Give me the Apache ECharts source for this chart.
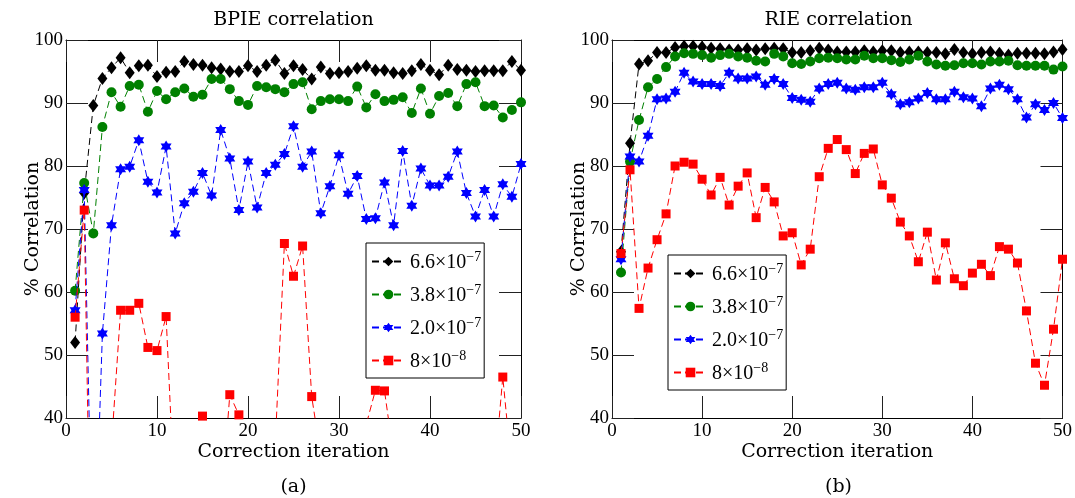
<!DOCTYPE html>
<html><head><meta charset="utf-8">
<script src="https://cdn.jsdelivr.net/npm/echarts@6/dist/echarts.min.js"></script>
<style>html,body{margin:0;padding:0;background:#fff}#c{width:1075px;height:498px}</style>
</head><body><div id="c"></div>
<script>
const iterations = [1,2,3,4,5,6,7,8,9,10,11,12,13,14,15,16,17,18,19,20,21,22,23,24,25,26,27,28,29,30,31,32,33,34,35,36,37,38,39,40,41,42,43,44,45,46,47,48,49,50];
const seriesNames = ['6.6e-7','3.8e-7','2.0e-7','8e-8'];
const legendBase = ['6.6×10','3.8×10','2.0×10','8×10'];
const legendExp = ['−7','−7','−7','−8'];
const xTicks = [0,10,20,30,40,50];
const yTicks = [40,50,60,70,80,90,100];

// BPIE correlation (a)
const bpie66 = [52.0,75.7,89.6,93.9,95.6,97.2,94.8,95.9,96.0,94.2,94.9,95.0,96.6,96.1,96.0,95.6,95.4,95.0,95.0,95.9,95.0,96.0,96.8,94.7,95.9,95.3,93.8,95.7,94.7,94.8,95.0,95.5,95.9,95.2,95.2,94.8,94.7,95.1,96.1,95.2,94.5,96.0,95.3,95.2,95.0,95.1,95.1,95.1,96.6,95.2];
const bpie38 = [60.2,77.3,69.3,86.2,91.7,89.4,92.7,92.9,88.6,91.9,90.6,91.7,92.3,91.0,91.3,93.8,93.8,92.2,90.3,89.7,92.7,92.5,92.2,91.7,93.0,93.3,89.0,90.3,90.6,90.6,90.3,92.6,89.3,91.4,90.3,90.5,90.9,88.4,92.3,88.3,91.1,91.6,89.5,93.0,93.3,89.5,89.6,87.7,88.9,90.1];
const bpie20 = [57.1,76.2,10,53.4,70.6,79.5,79.9,84.1,77.5,75.8,83.1,69.3,74.1,75.9,78.9,75.3,85.7,81.2,73.0,80.7,73.4,78.9,80.2,81.9,86.3,79.9,82.3,72.5,76.8,81.7,75.6,78.4,71.6,71.7,77.4,70.6,82.4,73.7,79.6,76.9,76.9,78.3,82.3,75.7,72.0,76.2,72.0,77.1,75.1,80.3];
const bpie08 = [56.0,73.0,-10,15,35.7,57.1,57.1,58.2,51.2,50.7,56.1,25,20,25,40.3,30,25,43.7,40.5,30,25,28,36,67.7,62.5,67.3,43.4,34,30,28,30,32,39,44.4,44.3,34,30,28,30,28,30,30,28,30,30,28,30,46.5,31.4,30];

// RIE correlation (b)
const rie66 = [66.4,83.6,96.2,96.7,98.0,98.0,98.8,99.0,99.0,98.9,98.7,98.6,98.4,98.4,98.6,98.4,98.6,98.7,98.6,98.0,98.0,98.3,98.7,98.4,98.1,98.1,98.1,98.3,98.1,98.3,98.3,98.0,98.1,98.1,98.0,98.0,97.8,98.5,98.0,97.8,98.0,98.1,97.9,97.6,97.9,97.9,97.9,97.8,98.1,98.5];
const rie38 = [63.1,80.7,87.3,92.5,93.8,95.7,97.4,97.9,97.8,97.6,97.2,97.6,97.8,97.4,97.2,96.7,96.6,97.8,97.4,96.3,96.2,96.6,97.1,97.2,97.1,96.9,96.9,97.5,97.1,97.1,96.8,96.5,96.9,97.5,96.6,96.1,95.9,96.0,96.3,96.3,96.1,96.6,96.6,96.7,96.0,95.9,95.9,95.9,95.3,95.8];
const rie20 = [65.2,81.5,80.7,84.8,90.6,90.7,91.8,94.8,93.4,93.0,93.0,92.7,94.8,93.9,93.9,94.2,92.9,93.8,93.0,90.8,90.5,90.2,92.3,93.0,93.2,92.3,92.1,92.5,92.5,93.2,91.4,89.8,90.1,90.7,91.6,90.6,90.6,91.8,90.9,90.7,89.5,92.3,92.9,92.2,90.6,87.7,89.8,88.9,90.0,87.6];
const rie08 = [66.1,79.4,57.4,63.8,68.3,72.4,80.0,80.6,80.3,77.9,75.4,78.2,73.8,76.8,78.9,71.8,76.6,74.3,68.9,69.4,64.3,66.8,78.3,82.8,84.2,82.6,78.8,82.0,82.7,77.0,74.9,71.1,68.9,64.8,69.5,61.9,67.8,62.1,61.0,63.0,64.4,62.6,67.2,66.8,64.6,57.0,48.7,45.2,54.1,65.2];

const colors = ['#000000','#008000','#0000ff','#ff0000'];
const star = 'path://M0,-10 L2.89,-5 L8.66,-5 L5.77,0 L8.66,5 L2.89,5 L0,10 L-2.89,5 L-8.66,5 L-5.77,0 L-8.66,-5 L-2.89,-5 Z';
const symbols = ['diamond','circle',star,'rect'];
const symbolSizes = [[10,13],10,[11,12],9];

const serifNum = 'Liberation Serif';
const serifText = 'DejaVu Serif';

function pairs(vals){ return iterations.map((x,i)=>[x, vals[i]]); }

function mkSeries(vals, k, gi){
  return {
    name: seriesNames[k], type:'line', xAxisIndex: gi*2, yAxisIndex: gi*2,
    data: pairs(vals), clip: true, symbol: symbols[k], symbolSize: symbolSizes[k],
    showAllSymbol: true,
    itemStyle:{color: colors[k]},
    lineStyle:{color: colors[k], width:1, type:[7,4]},
    emphasis:{disabled:true}, animation:false, z: 2+k
  };
}

const tickStyle = {show:true, inside:true, length:22, lineStyle:{color:'#222', width:1}};
function xAx(gi, top){
  return {type:'value', gridIndex:gi, position: top?'top':'bottom', min:0, max:50, interval:10,
    axisLine:{show:true, onZero:false, lineStyle:{color:'#000', width:1}},
    axisTick: tickStyle, splitLine:{show:false},
    axisLabel: top?{show:false}:{show:true, color:'#000', fontFamily:serifNum, fontSize:19, margin:4,
      formatter: v => xTicks.indexOf(v)>=0 ? String(v) : ''},
    name: top?'':'Correction iteration', nameLocation:'middle', nameGap:25, nameMoveOverlap:false,
    nameTextStyle:{color:'#000', fontFamily:serifText, fontSize:19}};
}
function yAx(gi, right){
  return {type:'value', gridIndex:gi, position: right?'right':'left', min:40, max:100, interval:10,
    axisLine:{show:true, onZero:false, lineStyle:{color:'#000', width:1}},
    axisTick: tickStyle, splitLine:{show:false},
    axisLabel: right?{show:false}:{show:true, color:'#000', fontFamily:serifNum, fontSize:19, margin:3,
      formatter: v => yTicks.indexOf(v)>=0 ? String(v) : ''},
    name: right?'':'% Correlation', nameLocation:'middle', nameGap:23, nameMoveOverlap:false,
    nameTextStyle:{color:'#000', fontFamily:serifText, fontSize:19}};
}

function mkLegend(left, top){
  return {orient:'vertical', left:left, top:top, data: seriesNames,
    backgroundColor:'#fff', borderColor:'#000', borderWidth:1, borderRadius:0,
    padding:[7,3,6,5], itemGap:10, itemWidth:33, itemHeight:12,
    selectedMode:false,
    formatter: name => { const i = seriesNames.indexOf(name); return '{b|'+legendBase[i]+'}{s|'+legendExp[i]+'}'; },
    textStyle:{color:'#000', fontFamily:serifNum, fontSize:20,
      rich:{b:{fontFamily:serifNum, fontSize:20, color:'#000', verticalAlign:'bottom'},
            s:{fontFamily:serifNum, fontSize:14, color:'#000', verticalAlign:'top', padding:[0,0,9,0]}}}};
}

const chart = echarts.init(document.getElementById('c'), null, {renderer:'canvas'});
chart.setOption({
  animation:false,
  backgroundColor:'#fff',
  title:[
    {text:'BPIE correlation', left:293.5, top:11, textAlign:'center', padding:0, textStyle:{fontFamily:serifText, fontSize:19, fontWeight:'normal', color:'#000'}},
    {text:'RIE correlation', left:838.5, top:11, textAlign:'center', padding:0, textStyle:{fontFamily:serifText, fontSize:19, fontWeight:'normal', color:'#000'}},
    {text:'(a)', left:293.5, top:478, textAlign:'center', padding:0, textStyle:{fontFamily:serifText, fontSize:19, fontWeight:'normal', color:'#000'}},
    {text:'(b)', left:838.5, top:478, textAlign:'center', padding:0, textStyle:{fontFamily:serifText, fontSize:19, fontWeight:'normal', color:'#000'}}
  ],
  grid:[
    {left:66, top:40, width:455, height:378},
    {left:612, top:40, width:453, height:378}
  ],
  xAxis:[xAx(0,false), xAx(0,true), xAx(1,false), xAx(1,true)],
  yAxis:[yAx(0,false), yAx(0,true), yAx(1,false), yAx(1,true)],
  legend:[mkLegend(366,243), mkLegend(668,255)],
  series:[
    mkSeries(bpie66,0,0), mkSeries(bpie38,1,0), mkSeries(bpie20,2,0), mkSeries(bpie08,3,0),
    mkSeries(rie66,0,1), mkSeries(rie38,1,1), mkSeries(rie20,2,1), mkSeries(rie08,3,1)
  ]
});
</script></body></html>
